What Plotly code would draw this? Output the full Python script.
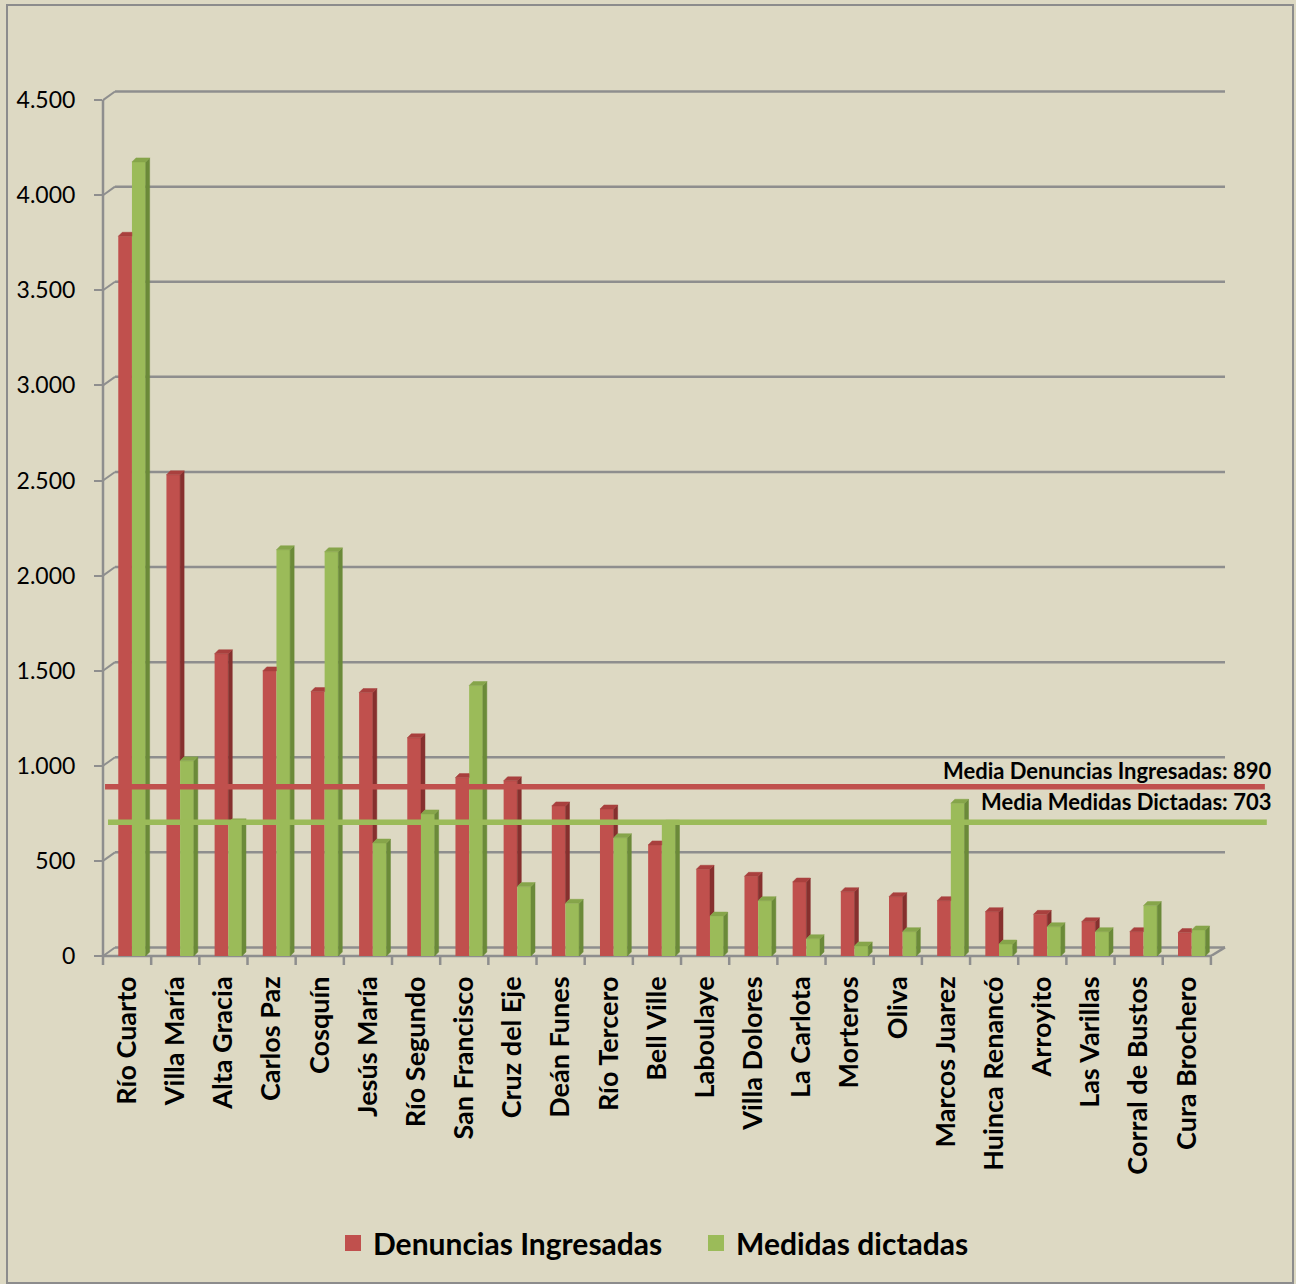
import plotly.graph_objects as go

# ---------------- data ----------------
CATEGORIES = ["Río Cuarto", "Villa María", "Alta Gracia", "Carlos Paz", "Cosquín",
              "Jesús María", "Río Segundo", "San Francisco", "Cruz del Eje", "Deán Funes",
              "Río Tercero", "Bell Ville", "Laboulaye", "Villa Dolores", "La Carlota",
              "Morteros", "Oliva", "Marcos Juarez", "Huinca Renancó", "Arroyito",
              "Las Varillas", "Corral de Bustos", "Cura Brochero"]
DENUNCIAS = [3784, 2530, 1589, 1499, 1390, 1385, 1147, 938, 921, 789, 773, 584,
             456, 419, 389, 338, 312, 291, 233, 219, 180, 128, 123]
MEDIDAS = [4175, 1026, 700, 2136, 2125, 594, 747, 1422, 365, 277, 622, 693,
           210, 291, 91, 53, 128, 803, 63, 154, 128, 265, 137]
SERIES_NAMES = ["Denuncias Ingresadas", "Medidas dictadas"]
MEAN_VALUES = [890, 703]
MEAN_LABELS = ["Media Denuncias Ingresadas: 890", "Media Medidas Dictadas: 703"]
Y_TICKS = [0, 500, 1000, 1500, 2000, 2500, 3000, 3500, 4000, 4500]

# ---------------- styles / geometry ----------------
W, H = 1296, 1284
L_PX, R_PX, T_PX, B_PX = 103, 1270, 85, 956
CAT_PX = 48.17          # pixels per category
Y_PX = 0.1902           # pixels per value unit
PLOT_W = R_PX - L_PX
PLOT_H = B_PX - T_PX
X0 = -0.5
X1 = X0 + PLOT_W / CAT_PX
Y1 = PLOT_H / Y_PX
N = len(CATEGORIES)

BG = "#DDD9C3"
GRID = "#8E8E8E"
RED, RED_TOP, RED_SIDE = "#C0504D", "#A9403E", "#86302E"
GRN, GRN_TOP, GRN_SIDE = "#9BBB59", "#86A54A", "#6B8A39"
FONT = "Lato"

BW = 0.284              # bar width (category units)
OFF_R = -0.183          # offset of red bar left edge
OFF_G = OFF_R + BW      # offset of green bar left edge
DX = 4 / CAT_PX         # depth in x (units)
DY = 4 / Y_PX           # depth in y (value units)
GX = 12 / CAT_PX        # back wall shift x
GY = 45                 # back wall shift y (value units)
BACK_END = (1225 - L_PX) / CAT_PX - 0.5

idx = list(range(N))


def paper_x(px):
    return (px - L_PX) / PLOT_W


def paper_y(py):
    return (B_PX - py) / PLOT_H


fig = go.Figure()

# front faces
fig.add_trace(go.Bar(x=idx, y=DENUNCIAS, width=BW, offset=OFF_R, name=SERIES_NAMES[0],
                     marker=dict(color=RED, line=dict(width=0)), showlegend=False))
fig.add_trace(go.Bar(x=idx, y=MEDIDAS, width=BW, offset=OFF_G, name=SERIES_NAMES[1],
                     marker=dict(color=GRN, line=dict(width=0)), showlegend=False))

# 3D side and top faces
rs_x, rs_y, rt_x, rt_y, gs_x, gs_y, gt_x, gt_y = ([] for _ in range(8))
for i, (r, g) in enumerate(zip(DENUNCIAS, MEDIDAS)):
    xl = i + OFF_R
    xr = xl + BW
    if r > g:
        rs_x += [xr, xr + DX, xr + DX, xr, xr, None]
        rs_y += [g, g + DY, r + DY, r, g, None]
        rt_x += [xl, xl + DX, xr + DX, xr, xl, None]
        rt_y += [r, r + DY, r + DY, r, r, None]
    else:
        rt_x += [xl, xl + DX, xr, xr, xl, None]
        rt_y += [r, r + DY, r + DY, r, r, None]
    gl = i + OFF_G
    gr = gl + BW
    gs_x += [gr, gr + DX, gr + DX, gr, gr, None]
    gs_y += [0, DY, g + DY, g, 0, None]
    gt_x += [gl, gl + DX, gr + DX, gr, gl, None]
    gt_y += [g, g + DY, g + DY, g, g, None]

for xs, ys, col in [(rs_x, rs_y, RED_SIDE), (rt_x, rt_y, RED_TOP),
                    (gs_x, gs_y, GRN_SIDE), (gt_x, gt_y, GRN_TOP)]:
    fig.add_trace(go.Scatter(x=xs, y=ys, mode="lines", fill="toself", fillcolor=col,
                             line=dict(width=0.5, color=col), showlegend=False,
                             hoverinfo="skip"))

# mean lines
mean_cols = [RED, GRN]
mean_x = [[-0.458, 23.62], [-0.396, 23.66]]
label_shift = [16, 21]
for m, col, xs, lab, sh in zip(MEAN_VALUES, mean_cols, mean_x, MEAN_LABELS, label_shift):
    fig.add_trace(go.Scatter(x=xs, y=[m, m], mode="lines", line=dict(color=col, width=5.5),
                             showlegend=False, hoverinfo="skip"))
    fig.add_annotation(x=paper_x(1273), y=m, xref="paper", yref="y", text=lab,
                       showarrow=False, xanchor="right", yanchor="middle", yshift=sh,
                       font=dict(family=FONT, size=22, color="black", weight="bold"))

# legend entries
for name, col in zip(SERIES_NAMES, [RED, GRN]):
    fig.add_trace(go.Scatter(x=[None], y=[None], mode="markers", name=name,
                             marker=dict(symbol="square", size=16, color=col)))

# axes decoration shapes
shapes = []
shapes.append(dict(type="rect", xref="paper", yref="paper",
                   x0=paper_x(7), x1=paper_x(1293), y0=paper_y(1283), y1=paper_y(5),
                   line=dict(color="#8C8C8C", width=2), layer="below"))
for t in Y_TICKS:
    shapes.append(dict(type="line", xref="x", yref="y", x0=X0 + GX, x1=BACK_END,
                       y0=t + GY, y1=t + GY, line=dict(color=GRID, width=2.5), layer="below"))
    shapes.append(dict(type="line", xref="paper", yref="y", x0=0, x1=paper_x(L_PX + 12),
                       y0=t, y1=t + GY, line=dict(color=GRID, width=2), layer="below"))
shapes.append(dict(type="line", xref="paper", yref="y", x0=0, x1=0, y0=0, y1=Y_TICKS[-1],
                   line=dict(color=GRID, width=2.5), layer="below"))
shapes.append(dict(type="line", xref="paper", yref="paper", x0=0,
                   x1=(N - 0.5 - X0) / (X1 - X0), y0=0, y1=0,
                   line=dict(color=GRID, width=2.5), layer="below"))
shapes.append(dict(type="line", xref="x", yref="y", x0=N - 0.5, x1=BACK_END, y0=0, y1=GY,
                   line=dict(color=GRID, width=2.5), layer="below"))
for k in range(N + 1):
    b = k - 0.5
    px_ = (b - X0) / (X1 - X0)
    shapes.append(dict(type="line", xref="paper", yref="paper", x0=px_, x1=px_,
                       y0=0, y1=paper_y(B_PX + 9), line=dict(color=GRID, width=2.5)))

fig.update_layout(
    width=W, height=H,
    margin=dict(l=L_PX, r=W - R_PX, t=T_PX, b=H - B_PX, pad=0),
    paper_bgcolor=BG, plot_bgcolor=BG,
    barmode="overlay",
    separators=",.",
    shapes=shapes,
    showlegend=True,
    legend=dict(orientation="h", x=paper_x(333), xanchor="left", y=paper_y(1243),
                yanchor="middle", entrywidth=318, entrywidthmode="pixels",
                font=dict(family=FONT, size=30, color="black", weight="bold"),
                bgcolor="rgba(0,0,0,0)", itemclick=False, itemdoubleclick=False),
    xaxis=dict(range=[X0, X1], tickvals=idx, ticktext=["<b>%s</b>" % c for c in CATEGORIES],
               tickangle=-90, ticks="", showgrid=False, zeroline=False, showline=False,
               tickfont=dict(family=FONT, size=27, color="black"), ticklabelstandoff=14),
    yaxis=dict(range=[0, Y1], tickvals=Y_TICKS, tickformat=",d", ticks="outside",
               ticklen=8, tickwidth=2, tickcolor=GRID, showgrid=False, zeroline=False,
               showline=False, tickfont=dict(family=FONT, size=23, color="black"),
               ticklabelstandoff=14),
)

fig.write_html("out.html", config={"displayModeBar": False},
               post_script="document.body.style.margin='0';document.body.style.overflow='hidden';")
